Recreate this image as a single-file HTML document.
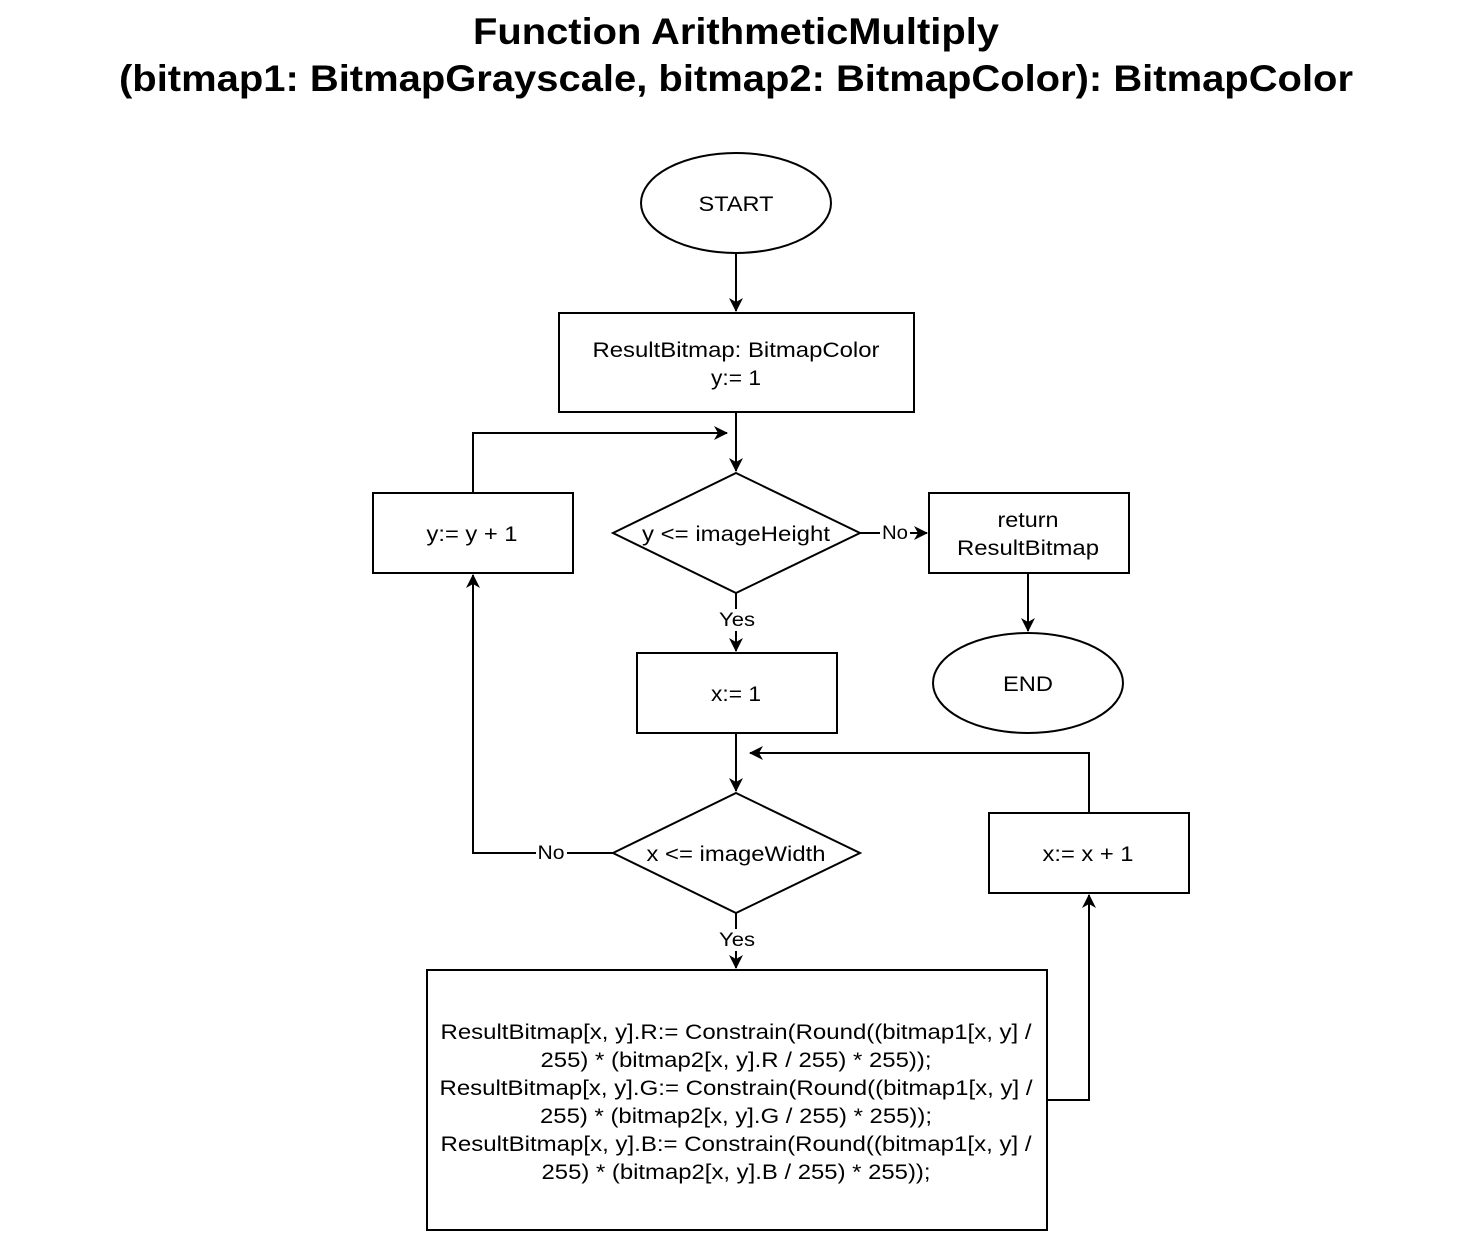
<!DOCTYPE html>
<html><head><meta charset="utf-8"><style>html,body{margin:0;padding:0;background:#fff}</style></head>
<body>
<svg width="1470" height="1236" xmlns="http://www.w3.org/2000/svg" font-family="Liberation Sans, Arial, sans-serif">
<defs><marker id="b" markerWidth="14" markerHeight="14" refX="13" refY="7" orient="auto" markerUnits="userSpaceOnUse"><path d="M0,0 L14,7 L0,14 L4,7 Z" fill="#000"/></marker></defs>
<g font-weight="bold" font-size="37" text-anchor="middle" lengthAdjust="spacingAndGlyphs">
<text x="736" y="44" textLength="526" lengthAdjust="spacingAndGlyphs">Function ArithmeticMultiply</text>
<text x="736" y="91" textLength="1234" lengthAdjust="spacingAndGlyphs">(bitmap1: BitmapGrayscale, bitmap2: BitmapColor): BitmapColor</text>
</g>
<g fill="#fff" stroke="#000" stroke-width="2">
<ellipse cx="736" cy="203" rx="95" ry="50"/>
<rect x="559" y="313" width="355" height="99"/>
<polygon points="736,473 860,533 736,593 613,533"/>
<rect x="929" y="493" width="200" height="80"/>
<ellipse cx="1028" cy="683" rx="95" ry="50"/>
<rect x="637" y="653" width="200" height="80"/>
<polygon points="736,793 860,853 736,913 613,853"/>
<rect x="373" y="493" width="200" height="80"/>
<rect x="427" y="970" width="620" height="260"/>
<rect x="989" y="813" width="200" height="80"/>
</g>
<g fill="none" stroke="#000" stroke-width="2" marker-end="url(#b)">
<path d="M736,253 V311"/>
<path d="M736,412 V471"/>
<path d="M860,533 H927"/>
<path d="M1028,573 V631"/>
<path d="M736,593 V651"/>
<path d="M736,733 V791"/>
<path d="M613,853 H473 V575"/>
<path d="M473,493 V433 H727"/>
<path d="M736,913 V968"/>
<path d="M1047,1100 H1089 V895"/>
<path d="M1089,813 V753 H750"/>
</g>
<g font-size="21" text-anchor="middle" fill="#000">
<text x="736" y="211" textLength="75" lengthAdjust="spacingAndGlyphs">START</text>
<text x="736" y="357" textLength="287" lengthAdjust="spacingAndGlyphs">ResultBitmap: BitmapColor</text>
<text x="736" y="385" textLength="50" lengthAdjust="spacingAndGlyphs">y:= 1</text>
<text x="736" y="541" textLength="188" lengthAdjust="spacingAndGlyphs">y &lt;= imageHeight</text>
<text x="1028" y="527" textLength="61" lengthAdjust="spacingAndGlyphs">return</text>
<text x="1028" y="555" textLength="142" lengthAdjust="spacingAndGlyphs">ResultBitmap</text>
<text x="1028" y="691" textLength="50" lengthAdjust="spacingAndGlyphs">END</text>
<text x="736" y="701" textLength="50" lengthAdjust="spacingAndGlyphs">x:= 1</text>
<text x="736" y="861" textLength="179" lengthAdjust="spacingAndGlyphs">x &lt;= imageWidth</text>
<text x="472" y="541" textLength="91" lengthAdjust="spacingAndGlyphs">y:= y + 1</text>
<text x="1088" y="861" textLength="91" lengthAdjust="spacingAndGlyphs">x:= x + 1</text>
<text x="736" y="1039" textLength="591" lengthAdjust="spacingAndGlyphs">ResultBitmap[x, y].R:= Constrain(Round((bitmap1[x, y] /</text>
<text x="736" y="1067" textLength="391" lengthAdjust="spacingAndGlyphs">255) * (bitmap2[x, y].R / 255) * 255));</text>
<text x="736" y="1095" textLength="593" lengthAdjust="spacingAndGlyphs">ResultBitmap[x, y].G:= Constrain(Round((bitmap1[x, y] /</text>
<text x="736" y="1123" textLength="392" lengthAdjust="spacingAndGlyphs">255) * (bitmap2[x, y].G / 255) * 255));</text>
<text x="736" y="1151" textLength="591" lengthAdjust="spacingAndGlyphs">ResultBitmap[x, y].B:= Constrain(Round((bitmap1[x, y] /</text>
<text x="736" y="1179" textLength="389" lengthAdjust="spacingAndGlyphs">255) * (bitmap2[x, y].B / 255) * 255));</text>
</g>
<g font-size="19" text-anchor="middle">
<rect x="880" y="522" width="30" height="22" fill="#fff"/><text x="895" y="539" textLength="26" lengthAdjust="spacingAndGlyphs">No</text>
<rect x="717" y="609" width="38" height="22" fill="#fff"/><text x="737" y="626" textLength="36" lengthAdjust="spacingAndGlyphs">Yes</text>
<rect x="536" y="842" width="31" height="22" fill="#fff"/><text x="551" y="859" textLength="27" lengthAdjust="spacingAndGlyphs">No</text>
<rect x="717" y="929" width="38" height="22" fill="#fff"/><text x="737" y="946" textLength="36" lengthAdjust="spacingAndGlyphs">Yes</text>
</g>
</svg>
</body></html>
